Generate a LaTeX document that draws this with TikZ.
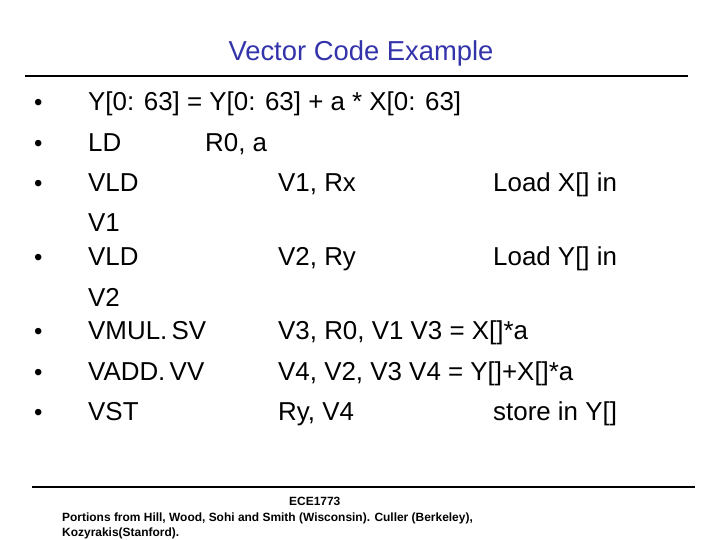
\documentclass[tikz,border=0pt]{standalone}
\usepackage{fontspec}
\setmainfont{Liberation Sans}
\definecolor{ttl}{RGB}{51,51,170}
\begin{document}
\begin{tikzpicture}[x=1bp,y=-1bp,
  txt/.style={anchor=base west,inner sep=0pt,font=\fontsize{26}{30}\selectfont},
  bul/.style={anchor=base west,inner sep=0pt,font=\fontsize{24}{30}\selectfont},
  foot/.style={anchor=base west,inner sep=0pt,font=\fontsize{12}{14}\selectfont\bfseries}]
\useasboundingbox (0,0) rectangle (720,540);
\node[anchor=base,inner sep=0pt,text=ttl,font=\fontsize{27.5}{32}\selectfont] (title) at (361,61) {Vector Code Example};
\coordinate (tl) at (25,76); \coordinate (tr) at (688,76);
\draw[line width=2.5bp] (tl) -- (tr);
\foreach \y/\n in {111/1,152/2,192/3,266/4,339/5,380/6,420/7}
  \node[bul] (b\n) at (34,\y) {•};
\node[txt] (l1) at (88,111) {Y[0: 63] = Y[0: 63] + a * X[0: 63]};
\node[txt] (l2a) at (88,152) {LD};
\node[txt] (l2b) at (205,152) {R0, a};
\node[txt] (l3a) at (88,192) {VLD};
\node[txt] (l3b) at (278,192) {V1, Rx};
\node[txt] (l3c) at (493,192) {Load X[] in};
\node[txt] (l3d) at (88,232) {V1};
\node[txt] (l4a) at (88,266) {VLD};
\node[txt] (l4b) at (278,266) {V2, Ry};
\node[txt] (l4c) at (493,266) {Load Y[] in};
\node[txt] (l4d) at (88,306) {V2};
\node[txt] (l5a) at (88,339) {VMUL.\,SV};
\node[txt] (l5b) at (278,339) {V3, R0, V1 V3 = X[]*a};
\node[txt] (l6a) at (88,380) {VADD.\,VV};
\node[txt] (l6b) at (278,380) {V4, V2, V3 V4 = Y[]+X[]*a};
\node[txt] (l7a) at (88,420) {VST};
\node[txt] (l7b) at (278,420) {Ry, V4};
\node[txt] (l7c) at (493,420) {store in Y[]};
\coordinate (fl) at (32,487); \coordinate (fr) at (695,487);
\draw[line width=1.5bp] (fl) -- (fr);
\node[foot] (f1) at (289,505) {ECE1773};
\node[foot] (f2) at (62,521) {Portions from Hill, Wood, Sohi and Smith (Wisconsin). Culler (Berkeley),};
\node[foot] (f3) at (62,536) {Kozyrakis(Stanford).};
\end{tikzpicture}
\end{document}
